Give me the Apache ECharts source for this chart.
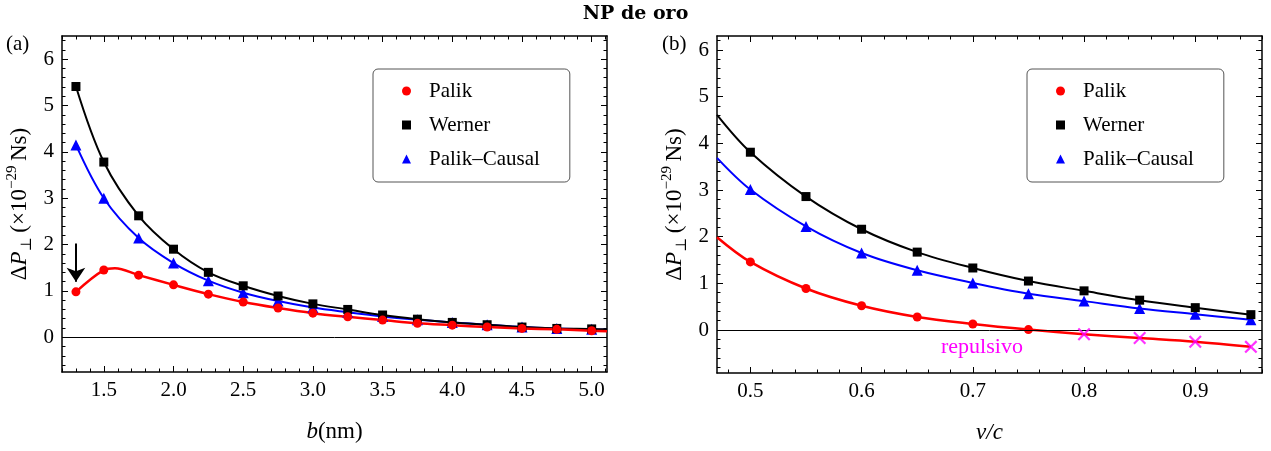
<!DOCTYPE html>
<html>
<head>
<meta charset="utf-8">
<title>NP de oro</title>
<script src="https://cdn.jsdelivr.net/npm/echarts@6/dist/echarts.min.js"></script>
<style>
  html, body { margin: 0; padding: 0; background: #ffffff; }
  #chart { width: 1271px; height: 451px; }
</style>
</head>
<body>
<div id="chart"></div>
<script>
// ---------- Panel (a): momentum transfer vs impact parameter b (nm) ----------
const bValues = [1.3, 1.5, 1.75, 2.0, 2.25, 2.5, 2.75, 3.0, 3.25, 3.5, 3.75, 4.0, 4.25, 4.5, 4.75, 5.0];
const palikA  = [0.98, 1.45, 1.34, 1.13, 0.93, 0.76, 0.63, 0.52, 0.44, 0.37, 0.30, 0.26, 0.22, 0.19, 0.17, 0.14];
const wernerA = [5.41, 3.78, 2.62, 1.90, 1.40, 1.11, 0.89, 0.72, 0.60, 0.48, 0.39, 0.32, 0.27, 0.22, 0.19, 0.18];
const causalA = [4.15, 3.00, 2.14, 1.60, 1.22, 0.96, 0.78, 0.64, 0.54, 0.45, 0.38, 0.32, 0.27, 0.22, 0.19, 0.17];
// fitted-curve points without markers (maximum of the Palik fit, values at the frame edge)
const palikFitA  = [[1.58, 1.49], [5.11, 0.13]];
const wernerFitA = [[5.11, 0.17]];
const causalFitA = [[5.11, 0.16]];

// ---------- Panel (b): momentum transfer vs v/c ----------
const vValues = [0.50, 0.55, 0.60, 0.65, 0.70, 0.75, 0.80, 0.85, 0.90, 0.95];
const palikB  = [1.46, 0.89, 0.52, 0.28, 0.13, 0.01, -0.09, -0.17, -0.25, -0.36];
const wernerB = [3.81, 2.86, 2.16, 1.67, 1.33, 1.05, 0.84, 0.64, 0.48, 0.33];
const causalB = [3.01, 2.22, 1.65, 1.28, 1.01, 0.78, 0.62, 0.46, 0.34, 0.22];
const palikFitB  = [[0.47, 1.99]];
const wernerFitB = [[0.47, 4.61]];
const causalFitB = [[0.47, 3.69]];

// ---------- Tick labels ----------
const xTicksA = [1.5, 2.0, 2.5, 3.0, 3.5, 4.0, 4.5, 5.0];
const xTicksB = [0.5, 0.6, 0.7, 0.8, 0.9];
const yTicks  = [0, 1, 2, 3, 4, 5, 6];

const SERIF = '"Liberation Serif", "DejaVu Serif", serif';
const RED = '#ff0000', BLACK = '#000000', BLUE = '#0000ff', MAGENTA = '#ff00ff';
const CROSS = 'path://M2.4,0L10,7.6L17.6,0L20,2.4L12.4,10L20,17.6L17.6,20L10,12.4L2.4,20L0,17.6L7.6,10L0,2.4Z';

function steps(from, to, step) {
  const out = [];
  const n = Math.round((to - from) / step);
  for (let i = 0; i <= n; i++) out.push(Math.round((from + i * step) * 1000) / 1000);
  return out;
}
function minorTicks(from, to, step, majorStep) {
  return steps(from, to, step).filter(v => Math.abs(v / majorStep - Math.round(v / majorStep)) > 1e-6);
}

const frameLine = { show: true, onZero: false, lineStyle: { color: '#000', width: 1.5 } };
const hiddenLine = { show: false, onZero: false };
const tickLine = { color: '#000', width: 1 };
const labelFont = { color: '#000', fontFamily: SERIF, fontSize: 21 };

// Four axes per dimension and grid: labelled major, minor, and mirrored pair on the opposite side
function frameAxes(grid, sideA, sideB, min, max, majors, minors, fmt, extra) {
  const base = { type: 'value', gridIndex: grid, min: min, max: max, splitLine: { show: false } };
  return [
    Object.assign({}, base, {
      position: sideA, axisLine: frameLine,
      axisTick: { show: true, inside: true, length: 6, customValues: majors, lineStyle: tickLine },
      axisLabel: Object.assign({ show: true, customValues: majors, formatter: fmt, margin: 8 }, labelFont)
    }, extra || {}),
    Object.assign({}, base, {
      position: sideA, axisLine: hiddenLine,
      axisTick: { show: true, inside: true, length: 3.5, customValues: minors, lineStyle: tickLine },
      axisLabel: { show: false }
    }),
    Object.assign({}, base, {
      position: sideB, axisLine: frameLine,
      axisTick: { show: true, inside: true, length: 6, customValues: majors, lineStyle: tickLine },
      axisLabel: { show: false }
    }),
    Object.assign({}, base, {
      position: sideB, axisLine: hiddenLine,
      axisTick: { show: true, inside: true, length: 3.5, customValues: minors, lineStyle: tickLine },
      axisLabel: { show: false }
    })
  ];
}

const nameRich = {
  n:   { fontFamily: SERIF, fontSize: 23, color: '#000', lineHeight: 30, verticalAlign: 'middle' },
  i:   { fontFamily: SERIF, fontSize: 23, color: '#000', lineHeight: 30, fontStyle: 'italic', verticalAlign: 'middle' },
  sub: { fontFamily: SERIF, fontSize: 15, color: '#000', lineHeight: 15, verticalAlign: 'bottom' },
  sup: { fontFamily: SERIF, fontSize: 15, color: '#000', lineHeight: 15, verticalAlign: 'top' }
};
const yName = '{n|Δ}{i|P}{sub|⊥}{n|\u2009(×10}{sup|−29}{n|\u2009Ns)}';

function yNameOpts() {
  return { name: yName, nameLocation: 'middle', nameRotate: 90, nameGap: 27,
           nameTextStyle: { rich: nameRich } };
}
function xNameOpts(text) {
  return { name: text, nameLocation: 'middle', nameGap: 45,
           nameTextStyle: { rich: nameRich } };
}

const fmt1 = v => v.toFixed(1);
const fmt0 = v => String(Math.round(v));

const xAxes = [].concat(
  frameAxes(0, 'bottom', 'top', 1.2, 5.11, xTicksA, minorTicks(1.2, 5.1, 0.1, 0.5), fmt1, xNameOpts('{i|b}{n|(nm)}')),
  frameAxes(1, 'bottom', 'top', 0.47, 0.96, xTicksB, minorTicks(0.48, 0.96, 0.02, 0.1), fmt1, xNameOpts('{i|v/c}'))
);
const yAxes = [].concat(
  frameAxes(0, 'left', 'right', -0.75, 6.5, yTicks, minorTicks(-0.6, 6.4, 0.2, 1), fmt0, yNameOpts()),
  frameAxes(1, 'left', 'right', -0.92, 6.3, yTicks, minorTicks(-0.8, 6.2, 0.2, 1), fmt0, yNameOpts())
);

// Marker points and marker-less fit points merged in x order
function curveData(xs, ys, fitPoints, markerFilter) {
  const pts = xs.map((x, k) => markerFilter && !markerFilter(ys[k])
    ? { value: [x, ys[k]], symbol: 'none' }
    : [x, ys[k]]);
  fitPoints.forEach(p => pts.push({ value: p, symbol: 'none' }));
  return pts.sort((a, b) => (a.value || a)[0] - (b.value || b)[0]);
}

function curve(name, color, symbol, size, width, data, panel, extra) {
  return Object.assign({
    name: name, type: 'line', xAxisIndex: panel * 4, yAxisIndex: panel * 4,
    data: data, smooth: 0.35, symbol: symbol, symbolSize: size, showSymbol: true,
    lineStyle: { color: color, width: width }, itemStyle: { color: color, borderWidth: 0 },
    emphasis: { disabled: true }, animation: false
  }, extra || {});
}

const zeroLine = {
  silent: true, symbol: 'none', label: { show: false },
  lineStyle: { color: '#000', width: 1, type: 'solid' },
  emphasis: { disabled: true }, data: [{ yAxis: 0 }]
};

const series = [
  // panel (a)
  curve('Palik–Causal', BLUE, 'triangle', 11, 2, curveData(bValues, causalA, causalFitA), 0, { markLine: zeroLine }),
  curve('Werner', BLACK, 'rect', 9, 2, curveData(bValues, wernerA, wernerFitA), 0),
  curve('Palik', RED, 'circle', 9, 2.5, curveData(bValues, palikA, palikFitA), 0, {
    markLine: {
      silent: true, symbol: ['none', 'arrow'], symbolSize: 14, label: { show: false },
      lineStyle: { color: '#000', width: 2, type: 'solid' }, itemStyle: { color: '#000' },
      emphasis: { disabled: true },
      data: [[{ coord: [1.3, 2.02] }, { coord: [1.3, 1.2] }]]
    }
  }),
  // panel (b)
  curve('Palik–Causal', BLUE, 'triangle', 11, 2, curveData(vValues, causalB, causalFitB), 1, { markLine: zeroLine }),
  curve('Werner', BLACK, 'rect', 9, 2, curveData(vValues, wernerB, wernerFitB), 1),
  curve('Palik', RED, 'circle', 9, 2.5, curveData(vValues, palikB, palikFitB, v => v >= 0), 1),
  {
    name: 'repulsivo', type: 'scatter', xAxisIndex: 4, yAxisIndex: 4,
    data: vValues.map((x, k) => [x, palikB[k]]).filter(p => p[1] < 0),
    symbol: CROSS, symbolSize: 13, itemStyle: { color: MAGENTA },
    emphasis: { disabled: true }, animation: false, z: 5
  }
];

function legendAt(left) {
  return {
    left: left, top: 69, orient: 'vertical', selectedMode: false,
    data: [
      { name: 'Palik', icon: 'circle' },
      { name: 'Werner', icon: 'rect' },
      { name: 'Palik–Causal', icon: 'triangle' }
    ],
    itemWidth: 9, itemHeight: 9, itemGap: 0,
    padding: [5, 30, 6, 29],
    borderColor: '#555', borderWidth: 1, borderRadius: 5, backgroundColor: '#fff',
    textStyle: { fontFamily: SERIF, fontSize: 21, color: '#000', lineHeight: 34, padding: [0, 0, 0, 13] }
  };
}

const option = {
  backgroundColor: '#ffffff',
  animation: false,
  title: {
    text: 'NP de oro', left: 'center', top: 0,
    textStyle: { fontFamily: '"DejaVu Serif", serif', fontSize: 19, fontWeight: 'bold', color: '#000' }
  },
  grid: [
    { left: 62, top: 36, width: 545, height: 336, outerBoundsMode: 'none' },
    { left: 717, top: 36, width: 545, height: 337, outerBoundsMode: 'none' }
  ],
  xAxis: xAxes,
  yAxis: yAxes,
  legend: [legendAt(373), legendAt(1027)],
  graphic: [
    { type: 'text', left: 6, top: 34, style: { text: '(a)', font: '21px ' + SERIF, fill: '#000' } },
    { type: 'text', left: 662, top: 34, style: { text: '(b)', font: '21px ' + SERIF, fill: '#000' } },
    { type: 'text', left: 941, top: 336, style: { text: 'repulsivo', font: '22px ' + SERIF, fill: MAGENTA } }
  ],
  series: series
};

const chart = echarts.init(document.getElementById('chart'), null, { renderer: 'canvas' });
chart.setOption(option);
</script>
</body>
</html>
